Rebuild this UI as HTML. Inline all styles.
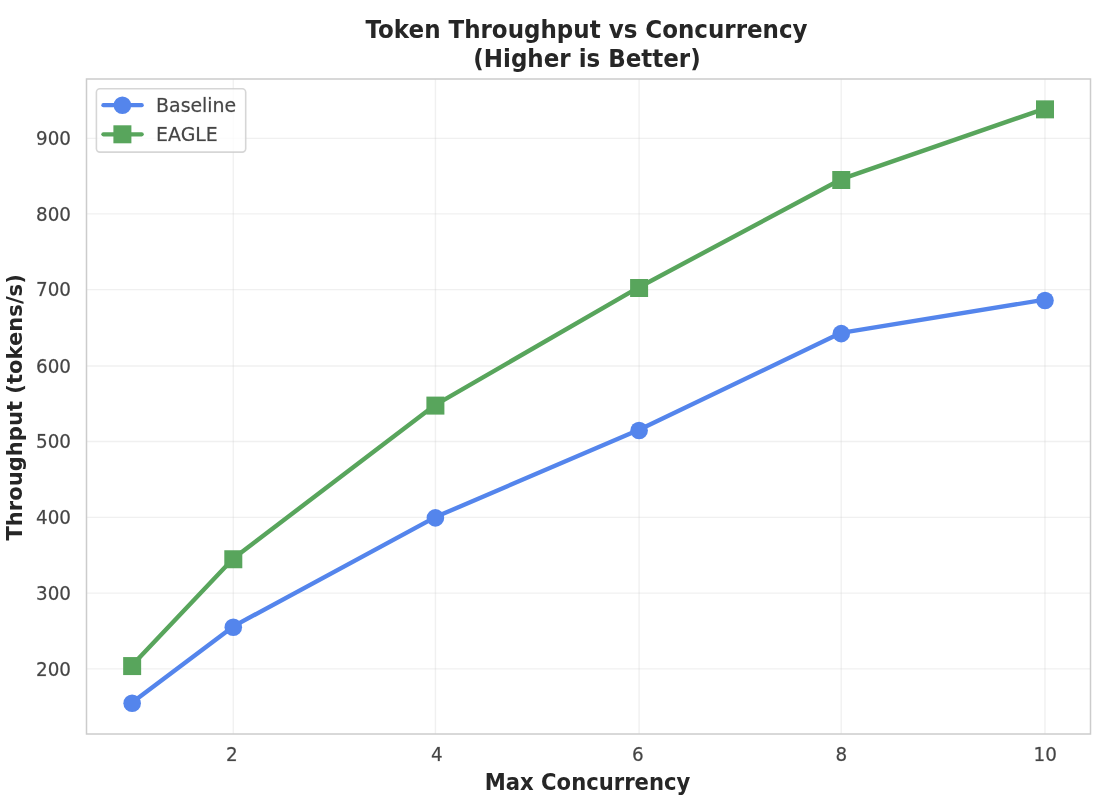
<!DOCTYPE html>
<html lang="en"><head><meta charset="utf-8"><title>Token Throughput vs Concurrency</title>
<style>html,body{margin:0;padding:0;background:#fff;}body{width:1118px;height:804px;overflow:hidden;}svg{display:block;}text{font-family:"DejaVu Sans","Liberation Sans",sans-serif;fill:#262626;}.b{font-weight:bold;}</style></head><body>
<svg width="1118" height="804" viewBox="0 0 1118 804">
<rect x="0" y="0" width="1118" height="804" fill="#ffffff"/>
<g stroke="#cccccc" stroke-opacity="0.3" stroke-width="1.35" fill="none">
<line x1="233.30" y1="79.00" x2="233.30" y2="734.00"/>
<line x1="435.40" y1="79.00" x2="435.40" y2="734.00"/>
<line x1="639.10" y1="79.00" x2="639.10" y2="734.00"/>
<line x1="841.25" y1="79.00" x2="841.25" y2="734.00"/>
<line x1="1045.00" y1="79.00" x2="1045.00" y2="734.00"/>
<line x1="86.50" y1="668.85" x2="1090.50" y2="668.85"/>
<line x1="86.50" y1="593.10" x2="1090.50" y2="593.10"/>
<line x1="86.50" y1="517.30" x2="1090.50" y2="517.30"/>
<line x1="86.50" y1="441.50" x2="1090.50" y2="441.50"/>
<line x1="86.50" y1="366.00" x2="1090.50" y2="366.00"/>
<line x1="86.50" y1="289.60" x2="1090.50" y2="289.60"/>
<line x1="86.50" y1="213.80" x2="1090.50" y2="213.80"/>
<line x1="86.50" y1="138.40" x2="1090.50" y2="138.40"/>
</g>
<polyline points="132.15,702.50 233.30,626.40 435.40,517.10 639.10,429.70 841.25,332.85 1045.00,299.65" fill="none" stroke="#5485EC" stroke-width="4.4" stroke-linejoin="round" stroke-linecap="round"/>
<circle cx="132.15" cy="703.30" r="8.8" fill="#5485EC"/>
<circle cx="233.30" cy="627.20" r="8.8" fill="#5485EC"/>
<circle cx="435.40" cy="517.90" r="8.8" fill="#5485EC"/>
<circle cx="639.10" cy="430.50" r="8.8" fill="#5485EC"/>
<circle cx="841.25" cy="333.65" r="8.8" fill="#5485EC"/>
<circle cx="1045.00" cy="300.45" r="8.8" fill="#5485EC"/>
<polyline points="132.15,665.27 233.30,558.45 435.40,404.80 639.10,287.20 841.25,179.20 1045.00,108.55" fill="none" stroke="#58A55C" stroke-width="4.4" stroke-linejoin="round" stroke-linecap="round"/>
<rect x="123.15" y="657.07" width="18" height="18" fill="#58A55C"/>
<rect x="224.30" y="550.25" width="18" height="18" fill="#58A55C"/>
<rect x="426.40" y="396.60" width="18" height="18" fill="#58A55C"/>
<rect x="630.10" y="279.00" width="18" height="18" fill="#58A55C"/>
<rect x="832.25" y="171.00" width="18" height="18" fill="#58A55C"/>
<rect x="1036.00" y="100.35" width="18" height="18" fill="#58A55C"/>
<rect x="86.50" y="79.00" width="1004.00" height="655.00" fill="none" stroke="#cccccc" stroke-width="1.5"/>
<rect x="96.4" y="88.7" width="149.3" height="63.4" rx="3.5" ry="3.5" fill="#ffffff" fill-opacity="0.8" stroke="#cccccc" stroke-opacity="0.8" stroke-width="1.6"/>
<line x1="103.4" y1="105.2" x2="141.7" y2="105.2" stroke="#5485EC" stroke-width="4.2" stroke-linecap="round"/>
<circle cx="122.4" cy="105.2" r="8.8" fill="#5485EC"/>
<line x1="103.4" y1="134.3" x2="141.7" y2="134.3" stroke="#58A55C" stroke-width="4.2" stroke-linecap="round"/>
<rect x="113.4" y="125.3" width="18" height="18" fill="#58A55C"/>
<text transform="translate(156.10,111.95)" font-size="18.9" text-anchor="start" style="fill:#454545;stroke:#454545;stroke-width:0.5;stroke-opacity:0.4">Baseline</text>
<text transform="translate(156.10,141.05)" font-size="18.9" text-anchor="start" style="fill:#454545;stroke:#454545;stroke-width:0.5;stroke-opacity:0.4">EAGLE</text>
<text transform="translate(71.00,675.65) scale(1,1.060)" font-size="18.33" text-anchor="end" style="fill:#454545;stroke:#454545;stroke-width:0.5;stroke-opacity:0.4">200</text>
<text transform="translate(71.00,599.90) scale(1,1.060)" font-size="18.33" text-anchor="end" style="fill:#454545;stroke:#454545;stroke-width:0.5;stroke-opacity:0.4">300</text>
<text transform="translate(71.00,524.10) scale(1,1.060)" font-size="18.33" text-anchor="end" style="fill:#454545;stroke:#454545;stroke-width:0.5;stroke-opacity:0.4">400</text>
<text transform="translate(71.00,448.30) scale(1,1.060)" font-size="18.33" text-anchor="end" style="fill:#454545;stroke:#454545;stroke-width:0.5;stroke-opacity:0.4">500</text>
<text transform="translate(71.00,372.80) scale(1,1.060)" font-size="18.33" text-anchor="end" style="fill:#454545;stroke:#454545;stroke-width:0.5;stroke-opacity:0.4">600</text>
<text transform="translate(71.00,296.40) scale(1,1.060)" font-size="18.33" text-anchor="end" style="fill:#454545;stroke:#454545;stroke-width:0.5;stroke-opacity:0.4">700</text>
<text transform="translate(71.00,220.60) scale(1,1.060)" font-size="18.33" text-anchor="end" style="fill:#454545;stroke:#454545;stroke-width:0.5;stroke-opacity:0.4">800</text>
<text transform="translate(71.00,145.20) scale(1,1.060)" font-size="18.33" text-anchor="end" style="fill:#454545;stroke:#454545;stroke-width:0.5;stroke-opacity:0.4">900</text>
<text transform="translate(231.80,760.70) scale(1,1.060)" font-size="18.33" text-anchor="middle" style="fill:#454545;stroke:#454545;stroke-width:0.5;stroke-opacity:0.4">2</text>
<text transform="translate(436.70,760.70) scale(1,1.060)" font-size="18.33" text-anchor="middle" style="fill:#454545;stroke:#454545;stroke-width:0.5;stroke-opacity:0.4">4</text>
<text transform="translate(637.90,760.70) scale(1,1.060)" font-size="18.33" text-anchor="middle" style="fill:#454545;stroke:#454545;stroke-width:0.5;stroke-opacity:0.4">6</text>
<text transform="translate(841.30,760.70) scale(1,1.060)" font-size="18.33" text-anchor="middle" style="fill:#454545;stroke:#454545;stroke-width:0.5;stroke-opacity:0.4">8</text>
<text transform="translate(1045.20,760.70) scale(1,1.060)" font-size="18.33" text-anchor="middle" style="fill:#454545;stroke:#454545;stroke-width:0.5;stroke-opacity:0.4">10</text>
<text class="b" transform="translate(587.55,789.80) scale(1,1.050)" font-size="21.15" text-anchor="middle">Max Concurrency</text>
<text class="b" transform="translate(21.70,407.40) rotate(-90) scale(1,1.030)" font-size="21.1" text-anchor="middle">Throughput (tokens/s)</text>
<text class="b" transform="translate(586.50,37.70) scale(1,1.055)" font-size="23" text-anchor="middle">Token Throughput vs Concurrency</text>
<text class="b" transform="translate(587.00,66.75) scale(1,1.070)" font-size="23" text-anchor="middle">(Higher is Better)</text>
</svg></body></html>
